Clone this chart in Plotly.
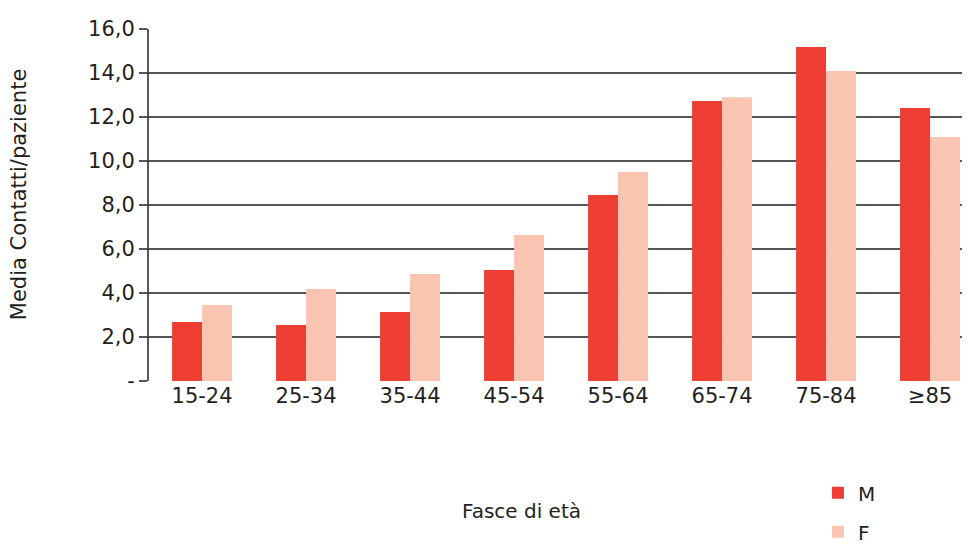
import plotly.graph_objects as go

categories = ["15-24", "25-34", "35-44", "45-54", "55-64", "65-74", "75-84", "≥85"]
male = [2.68, 2.55, 3.14, 5.05, 8.45, 12.73, 15.18, 12.41]
female = [3.45, 4.18, 4.86, 6.64, 9.5, 12.9, 14.09, 11.09]
ytick_vals = [0, 2, 4, 6, 8, 10, 12, 14, 16]
ytick_text = ["-", "2,0", "4,0", "6,0", "8,0", "10,0", "12,0", "14,0", "16,0"]

FONT = "DejaVu Sans"
TXT = "#231f20"

fig = go.Figure()
fig.add_trace(go.Bar(x=categories, y=male, name="M", marker_color="#EE3E33",
                     marker_line_width=0, legendgroup="m"))
fig.add_trace(go.Bar(x=categories, y=female, name="F", marker_color="#F9C4B0",
                     marker_line_width=0, legendgroup="f"))

fig.update_layout(
    width=970, height=547,
    margin=dict(l=140, r=13, t=21, b=174, autoexpand=False),
    paper_bgcolor="white", plot_bgcolor="white",
    barmode="group", bargap=0.423, bargroupgap=0,
    font=dict(family=FONT, size=21, color=TXT),
    showlegend=True,
    legend=dict(x=0.82, y=-0.262, xanchor="left", yanchor="top",
                orientation="v", traceorder="grouped", tracegroupgap=10,
                font=dict(size=20, color=TXT), itemwidth=30),
    xaxis=dict(type="category", range=[-0.52, 7.336], showgrid=False,
               showline=False, ticks="", tickfont=dict(size=21, color=TXT),
               automargin=False),
    yaxis=dict(range=[0, 16], tickvals=ytick_vals, ticktext=ytick_text,
               showgrid=True, gridcolor="#555555", gridwidth=1.5,
               ticks="outside", ticklen=8, tickcolor="#555555", tickwidth=1.5,
               showline=False, zeroline=False, automargin=False,
               tickfont=dict(size=21, color=TXT)),
    annotations=[
        dict(text="Media Contatti/paziente", xref="paper", yref="paper",
             x=-0.157, y=0.53, textangle=-90, showarrow=False,
             xanchor="center", yanchor="middle", font=dict(size=21, color=TXT)),
        dict(text="Fasce di età", xref="paper", yref="paper",
             x=0.457, y=-0.37, showarrow=False, xanchor="center",
             yanchor="middle", font=dict(size=20, color=TXT)),
    ],
    shapes=[
        dict(type="line", xref="paper", yref="y", x0=0, x1=0, y0=-0.5, y1=16.2,
             line=dict(color="#231f20", width=1.5)),
    ],
)

fig.write_html("out.html")
